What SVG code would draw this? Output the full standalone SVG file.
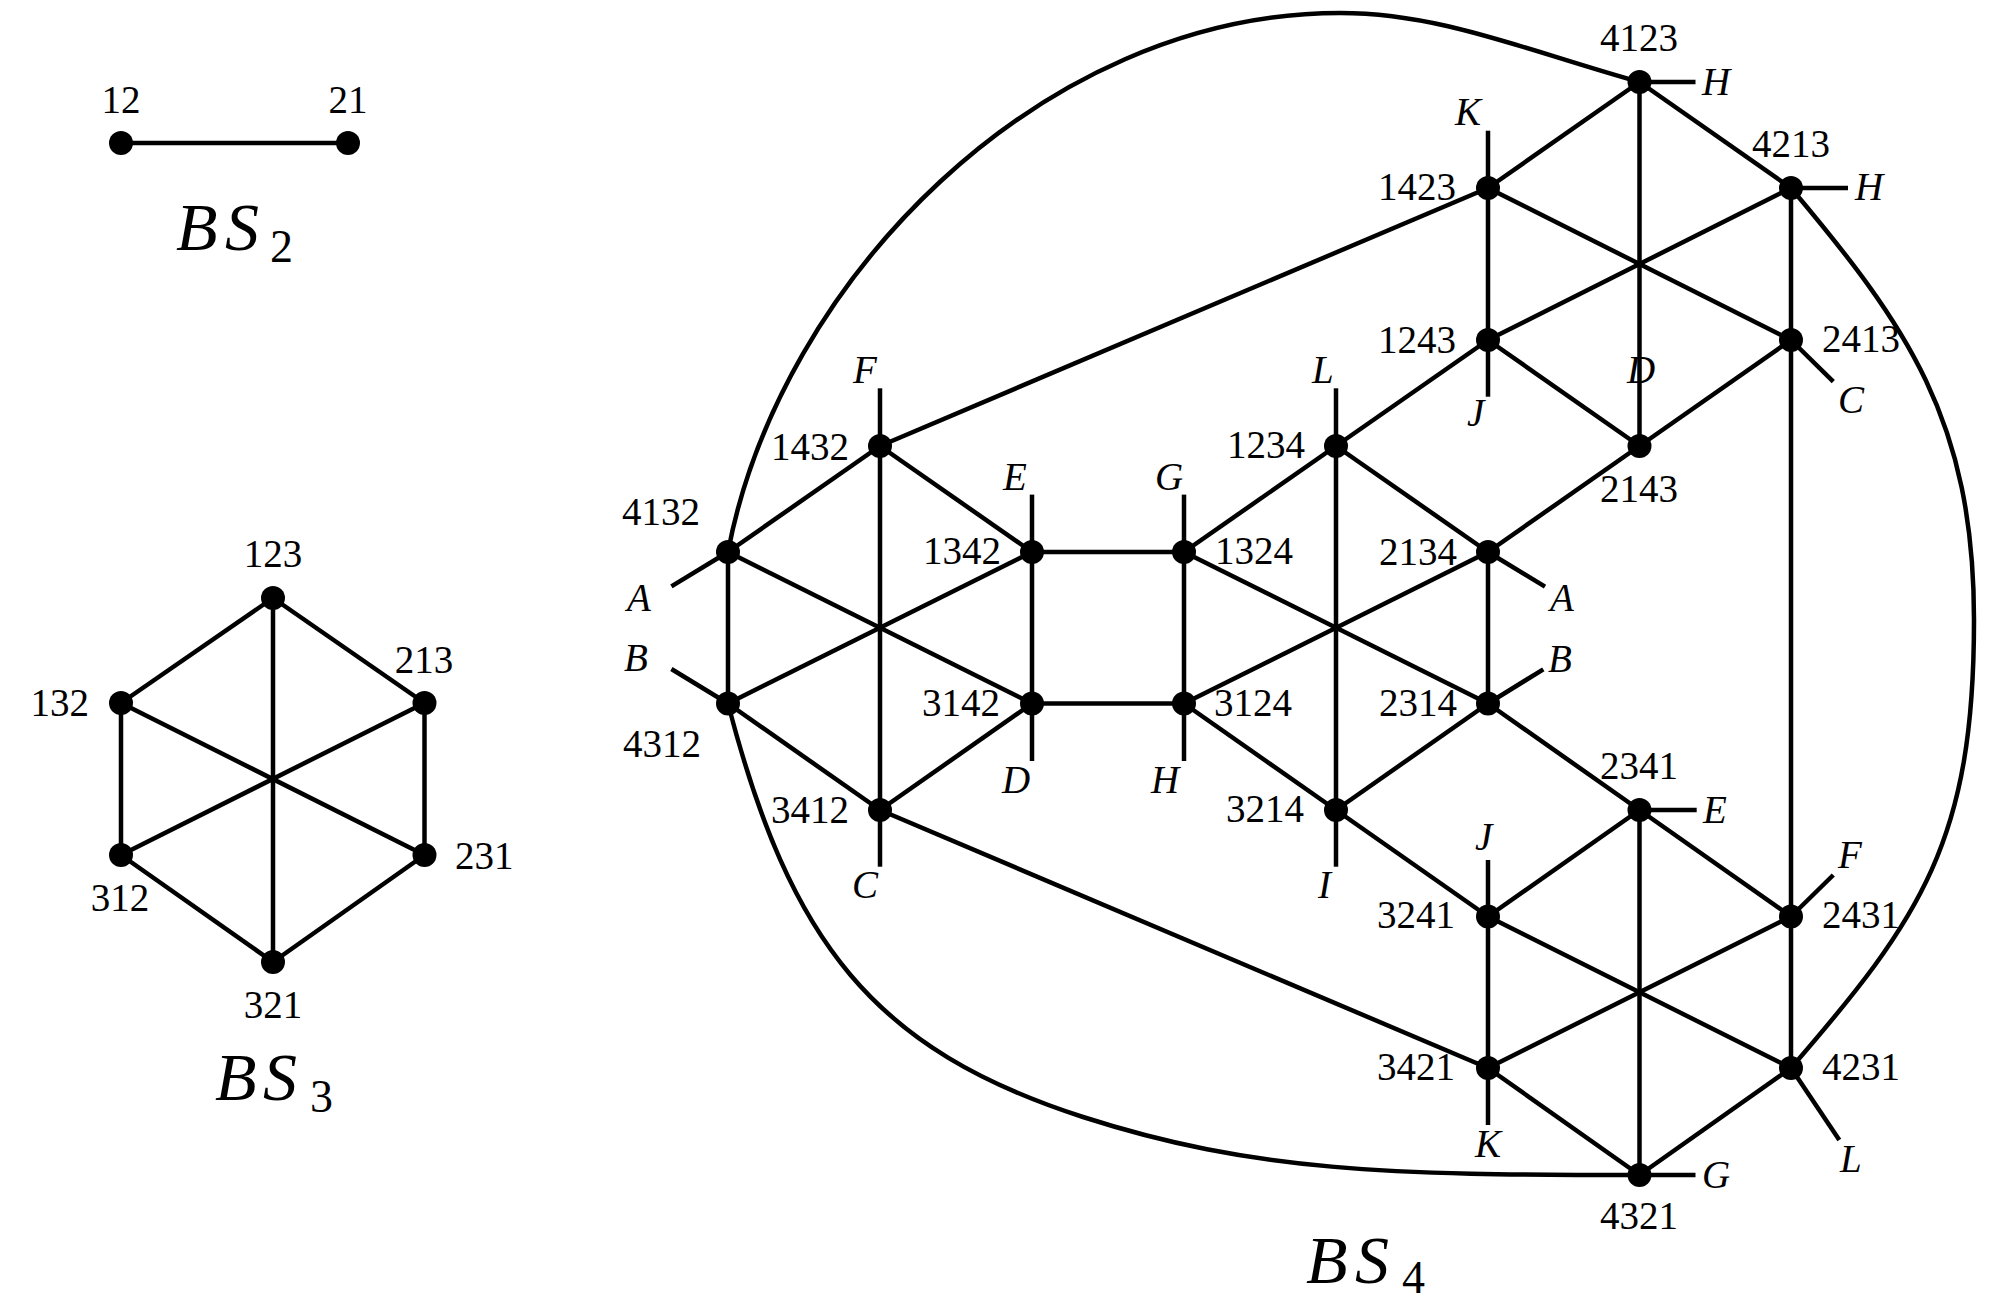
<svg xmlns="http://www.w3.org/2000/svg" width="2000" height="1315" viewBox="0 0 2000 1315">
<style>
.e{stroke:#000;stroke-width:4.5;fill:none}
.d{fill:#000}
.num{font-family:"Liberation Serif",serif;font-size:39px;fill:#000}
.lt{font-family:"Liberation Serif",serif;font-style:italic;font-size:39px;fill:#000}
.tt{font-family:"Liberation Serif",serif;font-style:italic;font-size:68px;fill:#000}
.sub{font-family:"Liberation Serif",serif;font-style:normal;font-size:46px}
.s{text-anchor:start}.m{text-anchor:middle}.r{text-anchor:end}
</style>
<rect width="2000" height="1315" fill="#fff"/>
<g id="connectors" class="e">
  <line x1="121" y1="143" x2="348" y2="143"/>
  <line x1="273" y1="598" x2="121" y2="703"/>
  <line x1="273" y1="598" x2="424.5" y2="703"/>
  <line x1="121" y1="703" x2="121" y2="855"/>
  <line x1="424.5" y1="703" x2="424.5" y2="855"/>
  <line x1="121" y1="855" x2="273" y2="962"/>
  <line x1="424.5" y1="855" x2="273" y2="962"/>
  <line x1="273" y1="598" x2="273" y2="962"/>
  <line x1="121" y1="703" x2="424.5" y2="855"/>
  <line x1="424.5" y1="703" x2="121" y2="855"/>
  <line x1="1639.5" y1="82" x2="1488" y2="188"/>
  <line x1="1639.5" y1="82" x2="1791" y2="188"/>
  <line x1="1488" y1="188" x2="1488" y2="340"/>
  <line x1="1791" y1="188" x2="1791" y2="340"/>
  <line x1="1488" y1="340" x2="1639.5" y2="446"/>
  <line x1="1791" y1="340" x2="1639.5" y2="446"/>
  <line x1="1639.5" y1="82" x2="1639.5" y2="446"/>
  <line x1="1488" y1="188" x2="1791" y2="340"/>
  <line x1="1791" y1="188" x2="1488" y2="340"/>
  <line x1="880" y1="446" x2="728" y2="552"/>
  <line x1="880" y1="446" x2="1032" y2="552"/>
  <line x1="728" y1="552" x2="728" y2="703.5"/>
  <line x1="1032" y1="552" x2="1032" y2="703.5"/>
  <line x1="728" y1="703.5" x2="880" y2="810"/>
  <line x1="1032" y1="703.5" x2="880" y2="810"/>
  <line x1="880" y1="446" x2="880" y2="810"/>
  <line x1="728" y1="552" x2="1032" y2="703.5"/>
  <line x1="1032" y1="552" x2="728" y2="703.5"/>
  <line x1="1336" y1="446" x2="1184" y2="552"/>
  <line x1="1336" y1="446" x2="1488" y2="552"/>
  <line x1="1184" y1="552" x2="1184" y2="703.5"/>
  <line x1="1488" y1="552" x2="1488" y2="703.5"/>
  <line x1="1184" y1="703.5" x2="1336" y2="810"/>
  <line x1="1488" y1="703.5" x2="1336" y2="810"/>
  <line x1="1336" y1="446" x2="1336" y2="810"/>
  <line x1="1184" y1="552" x2="1488" y2="703.5"/>
  <line x1="1488" y1="552" x2="1184" y2="703.5"/>
  <line x1="1639.5" y1="810" x2="1488" y2="916.5"/>
  <line x1="1639.5" y1="810" x2="1791" y2="916.5"/>
  <line x1="1488" y1="916.5" x2="1488" y2="1068"/>
  <line x1="1791" y1="916.5" x2="1791" y2="1068"/>
  <line x1="1488" y1="1068" x2="1639.5" y2="1175"/>
  <line x1="1791" y1="1068" x2="1639.5" y2="1175"/>
  <line x1="1639.5" y1="810" x2="1639.5" y2="1175"/>
  <line x1="1488" y1="916.5" x2="1791" y2="1068"/>
  <line x1="1791" y1="916.5" x2="1488" y2="1068"/>
  <line x1="1032" y1="552" x2="1184" y2="552"/>
  <line x1="1032" y1="703.5" x2="1184" y2="703.5"/>
  <line x1="1488" y1="340" x2="1336" y2="446"/>
  <line x1="1639.5" y1="446" x2="1488" y2="552"/>
  <line x1="1488" y1="703.5" x2="1639.5" y2="810"/>
  <line x1="1336" y1="810" x2="1488" y2="916.5"/>
  <line x1="880" y1="446" x2="1488" y2="188"/>
  <line x1="880" y1="810" x2="1488" y2="1068"/>
  <line x1="1791" y1="340" x2="1791" y2="916.5"/>
  <path d="M728 552 C779 282 1040 13 1340 13 C1440 13 1524 49.6 1639.5 82"/>
  <path d="M1791 188 C1906.7 325.4 1974 420 1974 620 C1974 840 1922 917 1791 1068"/>
  <path d="M728 703.5 C790 943 873.8 1049.5 1083 1117 C1254 1172 1389.5 1175 1639.5 1175"/>
  <line x1="1639.5" y1="82" x2="1695.5" y2="82"/>
  <line x1="1791" y1="188" x2="1848" y2="188"/>
  <line x1="1488" y1="188" x2="1488" y2="130.7"/>
  <line x1="1488" y1="340" x2="1488" y2="396.7"/>
  <line x1="1336" y1="446" x2="1336" y2="388.3"/>
  <line x1="1791" y1="340" x2="1833.3" y2="381.7"/>
  <line x1="880" y1="446" x2="880" y2="388.3"/>
  <line x1="1032" y1="552" x2="1032" y2="494.6"/>
  <line x1="1184" y1="552" x2="1184" y2="494.6"/>
  <line x1="728" y1="552" x2="671.4" y2="586.4"/>
  <line x1="728" y1="703.5" x2="671.4" y2="669"/>
  <line x1="1488" y1="552" x2="1545" y2="586.7"/>
  <line x1="1488" y1="703.5" x2="1543.3" y2="669.3"/>
  <line x1="1032" y1="703.5" x2="1032" y2="761"/>
  <line x1="1184" y1="703.5" x2="1184" y2="761"/>
  <line x1="880" y1="810" x2="880" y2="866.7"/>
  <line x1="1336" y1="810" x2="1336" y2="866.7"/>
  <line x1="1639.5" y1="810" x2="1696.7" y2="810"/>
  <line x1="1488" y1="916.5" x2="1488" y2="860"/>
  <line x1="1791" y1="916.5" x2="1833.3" y2="875"/>
  <line x1="1488" y1="1068" x2="1488" y2="1125"/>
  <line x1="1791" y1="1068" x2="1839.3" y2="1140"/>
  <line x1="1639.5" y1="1175" x2="1695.5" y2="1175"/>
</g>
<g id="half-edge-labels" class="lt">
  <text x="1702" y="95">H</text>
  <text x="1855" y="200">H</text>
  <text x="1455" y="125">K</text>
  <text x="1467" y="426">J</text>
  <text x="1312" y="383">L</text>
  <text x="1627" y="383">D</text>
  <text x="1838" y="413">C</text>
  <text x="853" y="383">F</text>
  <text x="1003" y="490">E</text>
  <text x="1155" y="490">G</text>
  <text x="627" y="611">A</text>
  <text x="624" y="671">B</text>
  <text x="1550" y="611">A</text>
  <text x="1548" y="672">B</text>
  <text x="1002" y="793">D</text>
  <text x="1151" y="793">H</text>
  <text x="852" y="898">C</text>
  <text x="1318" y="898">I</text>
  <text x="1703" y="823">E</text>
  <text x="1475" y="850">J</text>
  <text x="1838" y="868">F</text>
  <text x="1475" y="1157">K</text>
  <text x="1840" y="1172">L</text>
  <text x="1702" y="1188">G</text>
</g>
<g id="n12"><circle class="d" cx="121" cy="143" r="12"/><text class="num m" x="121" y="113">12</text></g>
<g id="n21"><circle class="d" cx="348" cy="143" r="12"/><text class="num m" x="348" y="113">21</text></g>
<g id="n123"><circle class="d" cx="273" cy="598" r="12"/><text class="num m" x="273" y="567">123</text></g>
<g id="n132"><circle class="d" cx="121" cy="703" r="12"/><text class="num r" x="89" y="716">132</text></g>
<g id="n213"><circle class="d" cx="424.5" cy="703" r="12"/><text class="num m" x="424" y="673">213</text></g>
<g id="n312"><circle class="d" cx="121" cy="855" r="12"/><text class="num m" x="120" y="911">312</text></g>
<g id="n231"><circle class="d" cx="424.5" cy="855" r="12"/><text class="num s" x="455" y="869">231</text></g>
<g id="n321"><circle class="d" cx="273" cy="962" r="12"/><text class="num m" x="273" y="1018">321</text></g>
<g id="n4123"><circle class="d" cx="1639.5" cy="82" r="12"/><text class="num m" x="1639" y="51">4123</text></g>
<g id="n1423"><circle class="d" cx="1488" cy="188" r="12"/><text class="num r" x="1456" y="200">1423</text></g>
<g id="n4213"><circle class="d" cx="1791" cy="188" r="12"/><text class="num m" x="1791" y="157">4213</text></g>
<g id="n1243"><circle class="d" cx="1488" cy="340" r="12"/><text class="num r" x="1456" y="353">1243</text></g>
<g id="n2413"><circle class="d" cx="1791" cy="340" r="12"/><text class="num s" x="1822" y="352">2413</text></g>
<g id="n2143"><circle class="d" cx="1639.5" cy="446" r="12"/><text class="num m" x="1639" y="502">2143</text></g>
<g id="n1234"><circle class="d" cx="1336" cy="446" r="12"/><text class="num r" x="1305" y="458">1234</text></g>
<g id="n1432"><circle class="d" cx="880" cy="446" r="12"/><text class="num r" x="849" y="460">1432</text></g>
<g id="n4132"><circle class="d" cx="728" cy="552" r="12"/><text class="num r" x="700" y="525">4132</text></g>
<g id="n1342"><circle class="d" cx="1032" cy="552" r="12"/><text class="num r" x="1001" y="564">1342</text></g>
<g id="n1324"><circle class="d" cx="1184" cy="552" r="12"/><text class="num s" x="1215" y="564">1324</text></g>
<g id="n2134"><circle class="d" cx="1488" cy="552" r="12"/><text class="num r" x="1457" y="565">2134</text></g>
<g id="n4312"><circle class="d" cx="728" cy="703.5" r="12"/><text class="num r" x="701" y="757">4312</text></g>
<g id="n3142"><circle class="d" cx="1032" cy="703.5" r="12"/><text class="num r" x="1000" y="716">3142</text></g>
<g id="n3124"><circle class="d" cx="1184" cy="703.5" r="12"/><text class="num s" x="1214" y="716">3124</text></g>
<g id="n2314"><circle class="d" cx="1488" cy="703.5" r="12"/><text class="num r" x="1457" y="716">2314</text></g>
<g id="n3412"><circle class="d" cx="880" cy="810" r="12"/><text class="num r" x="849" y="823">3412</text></g>
<g id="n3214"><circle class="d" cx="1336" cy="810" r="12"/><text class="num r" x="1304" y="822">3214</text></g>
<g id="n2341"><circle class="d" cx="1639.5" cy="810" r="12"/><text class="num m" x="1639" y="779">2341</text></g>
<g id="n3241"><circle class="d" cx="1488" cy="916.5" r="12"/><text class="num r" x="1455" y="928">3241</text></g>
<g id="n2431"><circle class="d" cx="1791" cy="916.5" r="12"/><text class="num s" x="1822" y="928">2431</text></g>
<g id="n3421"><circle class="d" cx="1488" cy="1068" r="12"/><text class="num r" x="1455" y="1080">3421</text></g>
<g id="n4231"><circle class="d" cx="1791" cy="1068" r="12"/><text class="num s" x="1822" y="1080">4231</text></g>
<g id="n4321"><circle class="d" cx="1639.5" cy="1175" r="12"/><text class="num m" x="1639" y="1229">4321</text></g>
<g id="titles">
  <text class="tt" y="250"><tspan x="176">B</tspan><tspan x="225">S</tspan><tspan class="sub" x="270" y="262">2</tspan></text>
  <text class="tt" y="1100"><tspan x="215">B</tspan><tspan x="263">S</tspan><tspan class="sub" x="310" y="1112">3</tspan></text>
  <text class="tt" y="1283"><tspan x="1306">B</tspan><tspan x="1355">S</tspan><tspan class="sub" x="1402" y="1293">4</tspan></text>
</g>
</svg>
